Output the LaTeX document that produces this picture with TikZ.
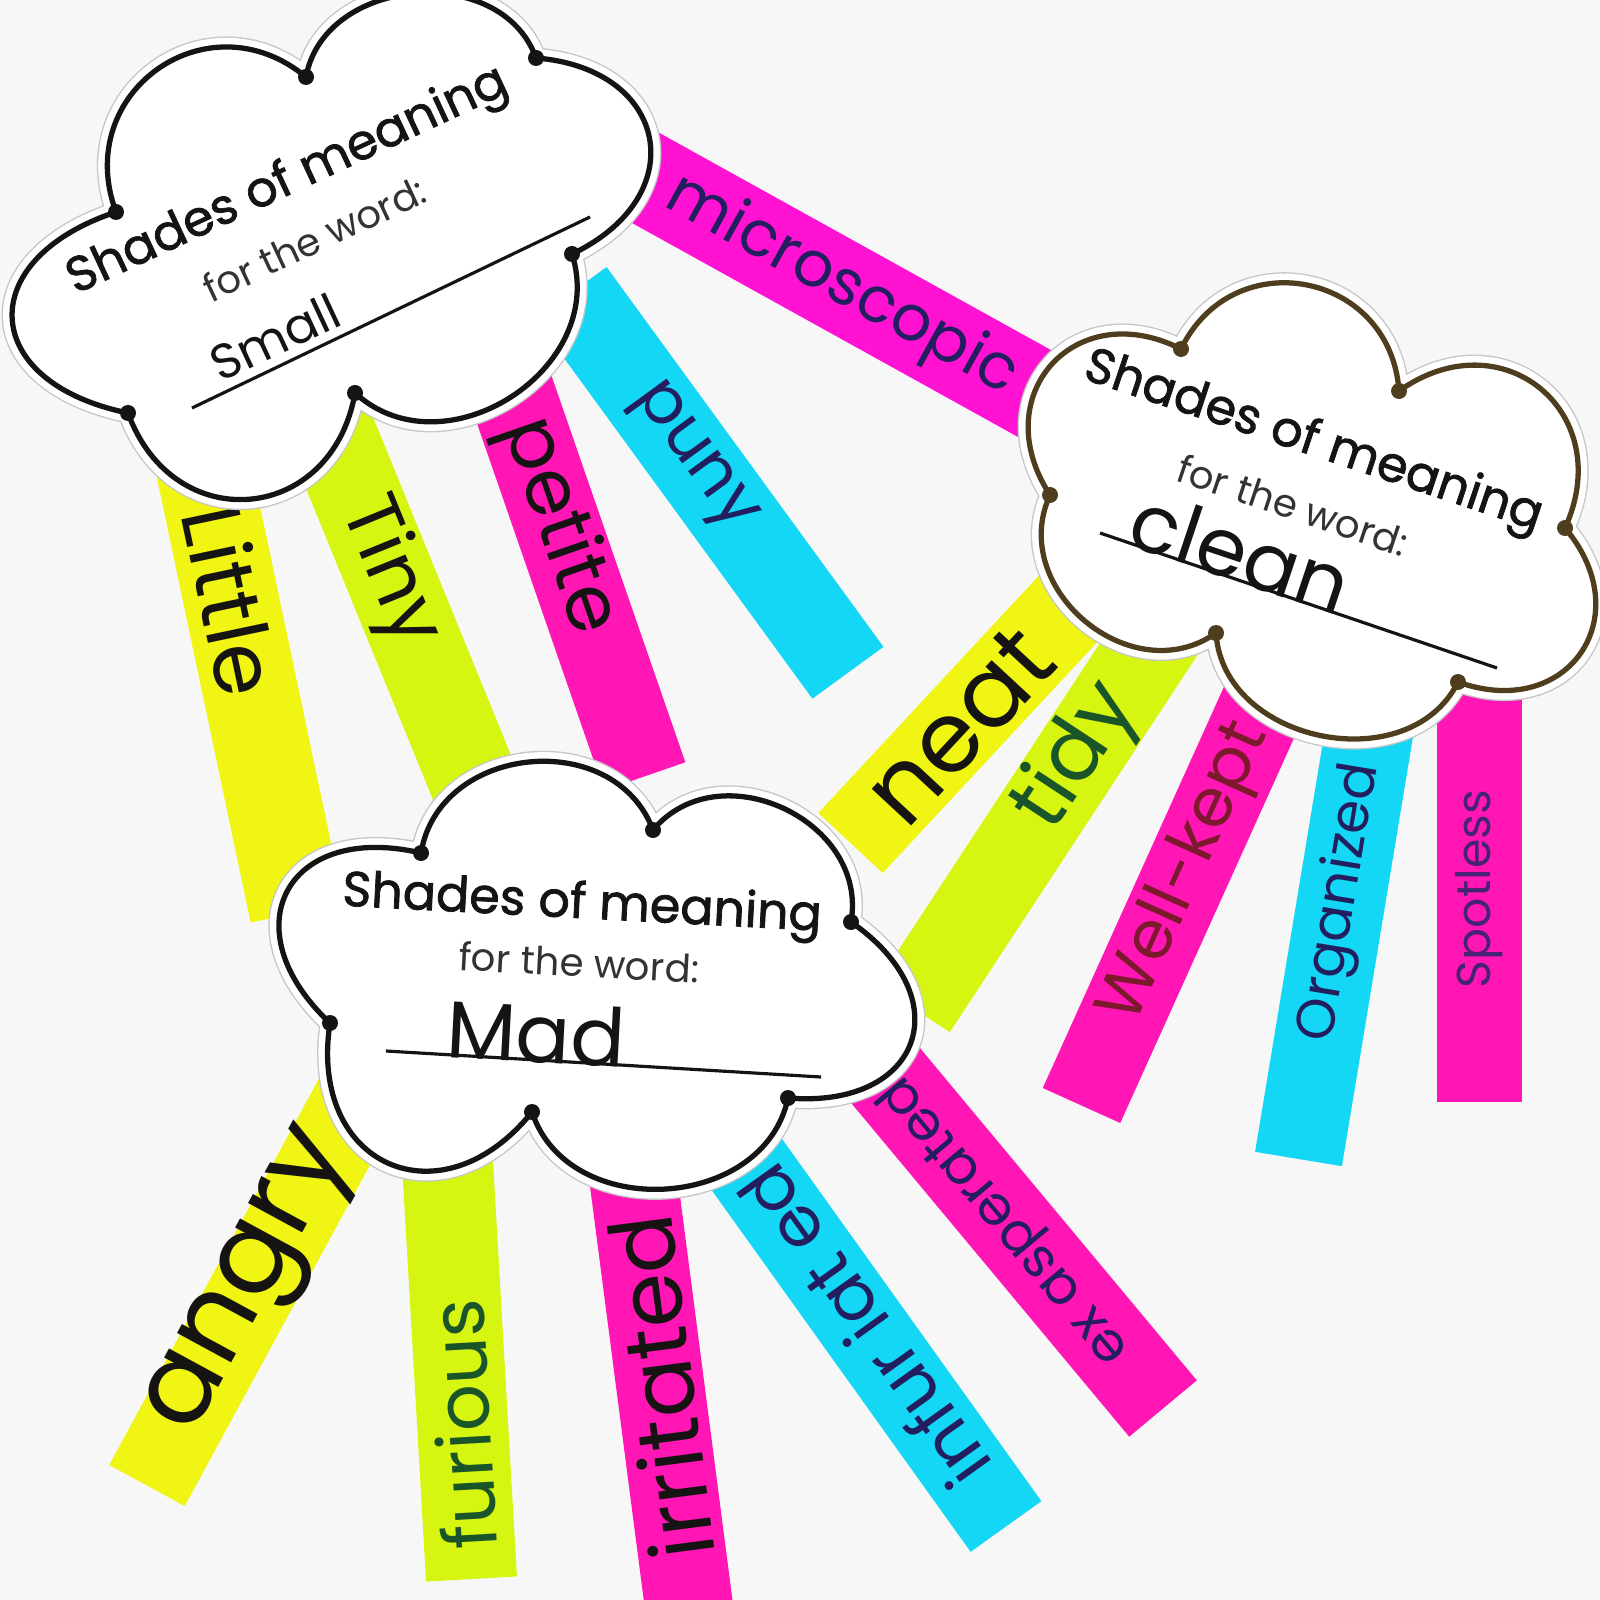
\documentclass[tikz,border=0pt]{standalone}
\usepackage{fontspec}
\setmainfont{Poppins}
\newfontfamily\titlefont{Poppins}[FakeBold=1.5]
\newfontfamily\handfont{Poppins}
\definecolor{paper}{RGB}{247,247,247}
\definecolor{ink}{RGB}{22,20,18}
\definecolor{bronze}{RGB}{78,62,30}
\definecolor{hotpink}{RGB}{255,22,180}
\definecolor{violetpink}{RGB}{255,18,210}
\definecolor{aqua}{RGB}{20,215,245}
\definecolor{lemon}{RGB}{240,245,20}
\definecolor{lime}{RGB}{214,246,18}
\definecolor{navy}{RGB}{35,30,95}
\definecolor{pengreen}{RGB}{25,85,40}
\definecolor{penred}{RGB}{125,25,45}
\definecolor{penpurple}{RGB}{70,35,115}

\begin{document}
\begin{tikzpicture}[
		word/.style={font=\handfont\fontsize{#1}{#1}\selectfont, transform shape, inner sep=0pt},
		cloudpaper/.style={fill=white, draw=#1, line width=1.5pt, line join=round, line cap=round,
			preaction={draw=black!22, line width=6pt}, preaction={draw=white, line width=5.2pt}},
		heading/.style={font=\titlefont\fontsize{14}{16}\selectfont, text=ink, inner sep=0pt},
		subheading/.style={font=\handfont\fontsize{11}{13}\selectfont, text=black!80, inner sep=0pt},
		writeline/.style={draw=#1, line width=0.9pt}]
		
		\useasboundingbox (0,0) rectangle (16,-16);
		\clip (0,0) rectangle (16,-16);
		\fill[paper] (0,0) rectangle (16,-16);
		
		% Strips of the Small cloud
		\begin{scope}[shift={(5.88,-1.46)}, rotate=-29]
			\fill[violetpink] (0,-0.46) rectangle (5.17,0.46);
			\node[word=18, text=navy] (w-microscopic) at (2.9,0) {microscopic};
		\end{scope}
		\begin{scope}[shift={(5.71,-2.93)}, rotate=-53.9]
			\fill[aqua] (0,-0.44) rectangle (4.70,0.44);
			\node[word=19, text=navy] (w-puny) at (2.05,0) {puny};
		\end{scope}
		\begin{scope}[shift={(5.04,-3.70)}, rotate=-70.9]
			\fill[hotpink] (0,-0.43) rectangle (4.30,0.43);
			\node[word=22, text=ink] (w-petite) at (1.66,0) {petite};
		\end{scope}
		\begin{scope}[shift={(3.20,-4.05)}, rotate=-67.8]
			\fill[lime] (0,-0.445) rectangle (4.48,0.445);
			\node[word=22, text=ink] (w-tiny) at (1.81,0) {Tiny};
		\end{scope}
		\begin{scope}[shift={(1.99,-4.47)}, rotate=-78.1]
			\fill[lemon] (0,-0.475) rectangle (4.76,0.475);
			\node[word=24, text=ink] (w-little) at (1.57,0) {Little};
		\end{scope}
		
		% Strips of the clean cloud
		\begin{scope}[shift={(8.505,-8.43)}, rotate=47.1]
			\fill[lemon] (0,-0.44) rectangle (3.35,0.44);
			\node[word=28, text=ink] (w-neat) at (1.6,0) {neat};
		\end{scope}
		\begin{scope}[shift={(9.13,-10.08)}, rotate=56.7]
			\fill[lime] (0,-0.44) rectangle (4.55,0.44);
			\node[word=24, text=pengreen] (w-tidy) at (3.0,0) {tidy};
		\end{scope}
		\begin{scope}[shift={(10.815,-11.055)}, rotate=65.7]
			\fill[hotpink] (0,-0.425) rectangle (4.70,0.425);
			\node[word=19, text=penred] (w-wellkept) at (2.55,0) {Well-kept};
		\end{scope}
		\begin{scope}[shift={(12.985,-11.59)}, rotate=80.6]
			\fill[aqua] (0,-0.44) rectangle (4.60,0.44);
			\node[word=15.5, text=navy] (w-organized) at (2.6,0) {Organized};
		\end{scope}
		\begin{scope}[shift={(14.795,-11.02)}, rotate=90]
			\fill[hotpink] (0,-0.425) rectangle (4.17,0.425);
			\node[word=13.5, text=penpurple] (w-spotless) at (2.13,0) {Spotless};
		\end{scope}
		
		% Strips of the Mad cloud
		\begin{scope}[shift={(1.47,-14.855)}, rotate=61.5]
			\fill[lemon] (0,-0.43) rectangle (4.45,0.43);
			\node[word=32, text=ink] (w-angry) at (2.28,0) {angry};
		\end{scope}
		\begin{scope}[shift={(4.715,-15.79)}, rotate=93.3]
			\fill[lime] (0,-0.455) rectangle (4.70,0.455);
			\node[word=21, text=pengreen] (w-furious) at (1.55,0) {furious};
		\end{scope}
		\begin{scope}[shift={(6.92,-16.30)}, rotate=97.4]
			\fill[hotpink] (0,-0.44) rectangle (4.94,0.44);
			\node[word=25, text=ink] (w-irritated) at (2.45,0) {irritated};
		\end{scope}
		\begin{scope}[shift={(10.06,-15.265)}, rotate=125.6]
			\fill[aqua] (0,-0.435) rectangle (4.90,0.435);
			\node[word=20, text=navy] (w-infuriated) at (2.45,0) {infur iat ed};
		\end{scope}
		\begin{scope}[shift={(11.63,-14.085)}, rotate=129.8]
			\fill[hotpink] (0,-0.44) rectangle (4.80,0.44);
			\node[word=15.5, text=navy] (w-exasperated) at (2.45,0) {ex asperated};
		\end{scope}
		
		% Cloud: Small
		\coordinate (sm1) at (1.16,-2.12);
		\coordinate (sm2) at (3.06,-0.77);
		\coordinate (sm3) at (5.36,-0.58);
		\coordinate (sm4) at (5.72,-2.54);
		\coordinate (sm5) at (3.55,-3.93);
		\coordinate (sm6) at (1.28,-4.13);
		\path[cloudpaper=ink] (sm1) to[bend left=75, looseness=1.40] (sm2)
			to[bend left=75, looseness=1.14] (sm3) to[bend left=75, looseness=1.72] (sm4)
			to[bend left=75, looseness=1.20] (sm5) to[bend left=75, looseness=1.50] (sm6)
			to[bend left=75, looseness=1.93] (sm1);
		\fill[ink] (sm1) circle (0.08) (sm2) circle (0.08) (sm3) circle (0.08)
			(sm4) circle (0.08) (sm5) circle (0.08) (sm6) circle (0.08);
		\node[heading, rotate=25] (small-title) at (2.88,-1.82) {Shades of meaning};
		\node[subheading, rotate=25] (small-sub) at (3.14,-2.39) {for the word:};
		\draw[writeline=ink] (1.92,-4.08) -- (5.90,-2.17);
		\node[word=14, text=ink, rotate=25] (small-word) at (2.75,-3.37) {Small};
		
		% Cloud: clean
		\coordinate (cl1) at (10.50,-4.95);
		\coordinate (cl2) at (11.81,-3.49);
		\coordinate (cl3) at (13.99,-3.91);
		\coordinate (cl4) at (15.65,-5.28);
		\coordinate (cl5) at (14.58,-6.82);
		\coordinate (cl6) at (12.16,-6.33);
		\path[cloudpaper=bronze] (cl1) to[bend left=75, looseness=1.55] (cl2)
			to[bend left=75, looseness=1.38] (cl3) to[bend left=75, looseness=1.51] (cl4)
			to[bend left=75, looseness=1.59] (cl5) to[bend left=75, looseness=1.14] (cl6)
			to[bend left=75, looseness=1.22] (cl1);
		\fill[bronze] (cl1) circle (0.08) (cl2) circle (0.08) (cl3) circle (0.08)
			(cl4) circle (0.08) (cl5) circle (0.08) (cl6) circle (0.08);
		\node[heading, rotate=-18.5] (clean-title) at (13.13,-4.43) {Shades of meaning};
		\node[subheading, rotate=-18.5] (clean-sub) at (12.93,-5.05) {for the word:};
		\draw[writeline=ink] (11.00,-5.33) -- (14.97,-6.68);
		\node[word=23, text=ink, rotate=-18.5] (clean-word) at (12.41,-5.52) {clean};
		
		% Cloud: Mad
		\coordinate (md1) at (3.30,-10.23);
		\coordinate (md2) at (4.21,-8.53);
		\coordinate (md3) at (6.53,-8.30);
		\coordinate (md4) at (8.51,-9.22);
		\coordinate (md5) at (7.88,-10.98);
		\coordinate (md6) at (5.32,-11.12);
		\path[cloudpaper=ink] (md1) to[bend left=75, looseness=1.83] (md2)
			to[bend left=75, looseness=1.21] (md3) to[bend left=75, looseness=1.21] (md4)
			to[bend left=75, looseness=1.83] (md5) to[bend left=75, looseness=1.16] (md6)
			to[bend left=75, looseness=1.68] (md1);
		\fill[ink] (md1) circle (0.08) (md2) circle (0.08) (md3) circle (0.08)
			(md4) circle (0.08) (md5) circle (0.08) (md6) circle (0.08);
		\node[heading, rotate=-3] (mad-title) at (5.82,-9.06) {Shades of meaning};
		\node[subheading, rotate=-3] (mad-sub) at (5.79,-9.62) {for the word:};
		\draw[writeline=ink] (3.86,-10.51) -- (8.21,-10.77);
		\node[word=23, text=ink, rotate=-3] (mad-word) at (5.36,-10.33) {Mad};
		
	\end{tikzpicture}
\end{document}
